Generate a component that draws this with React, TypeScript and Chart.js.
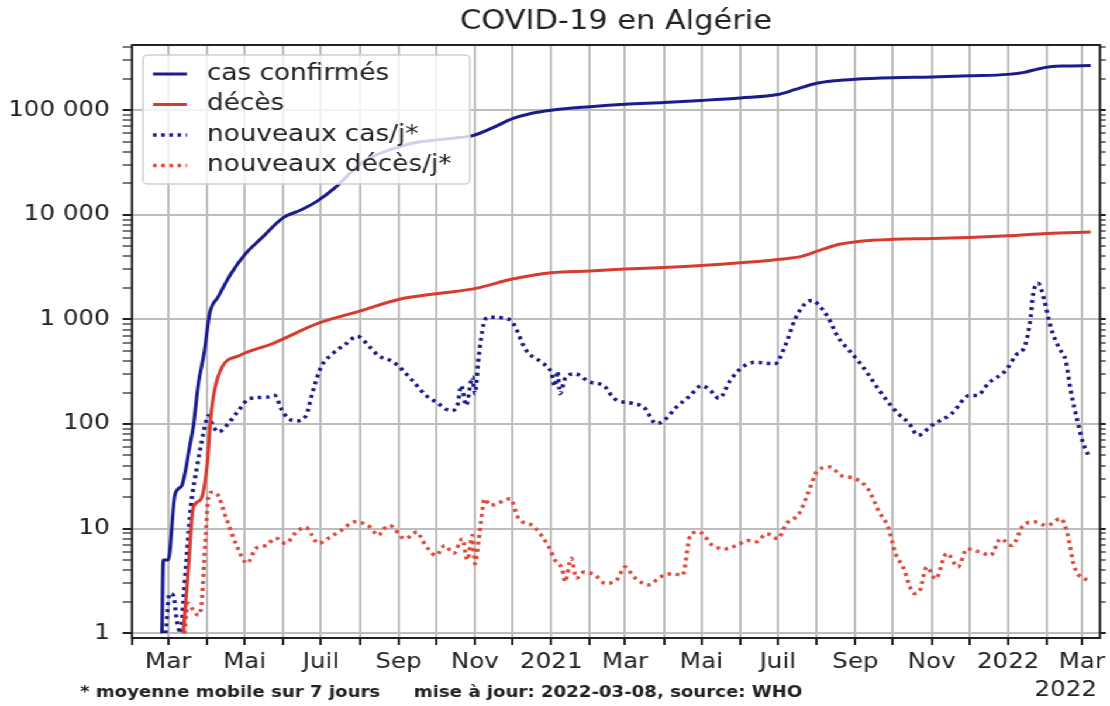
import React, { useEffect, useRef } from 'react';
import { Chart, registerables } from 'chart.js';

Chart.register(...registerables);

const INNER_W = 949;
const H = 706;
const STRETCH = 1110 / INNER_W;
const FONT = "'DejaVu Sans', sans-serif";

const titleText = 'COVID-19 en Algérie';
const seriesLabels = ['cas confirmés', 'décès', 'nouveaux cas/j*', 'nouveaux décès/j*'];
const footnoteLeft = '* moyenne mobile sur 7 jours';
const footnoteRight = 'mise à jour: 2022-03-08, source: WHO';
const offsetText = '2022';

const monthTickDates = [
  '2020-02-01', '2020-03-01', '2020-04-01', '2020-05-01', '2020-06-01', '2020-07-01',
  '2020-08-01', '2020-09-01', '2020-10-01', '2020-11-01', '2020-12-01', '2021-01-01',
  '2021-02-01', '2021-03-01', '2021-04-01', '2021-05-01', '2021-06-01', '2021-07-01',
  '2021-08-01', '2021-09-01', '2021-10-01', '2021-11-01', '2021-12-01', '2022-01-01',
  '2022-02-01', '2022-03-01',
];
const xTickLabels = [
  '', 'Mar', '', 'Mai', '', 'Juil', '', 'Sep', '', 'Nov', '', '2021',
  '', 'Mar', '', 'Mai', '', 'Juil', '', 'Sep', '', 'Nov', '', '2022',
  '', 'Mar',
];
const yMajorValues = [1, 10, 100, 1000, 10000, 100000];
const yTickLabels = ['1', '10', '100', '1 000', '10 000', '100 000'];
const yMinorMultipliers = [2, 3, 4, 5, 6, 7, 8, 9];

const cumCasesDates = [
  '2020-02-25', '2020-02-26', '2020-03-01', '2020-03-06', '2020-03-09', '2020-03-12',
  '2020-03-15', '2020-03-18', '2020-03-21', '2020-03-25', '2020-03-30', '2020-04-03',
  '2020-04-10', '2020-04-20', '2020-05-01', '2020-05-14', '2020-06-01', '2020-06-15',
  '2020-06-28', '2020-07-13', '2020-08-01', '2020-08-15', '2020-09-01', '2020-09-15',
  '2020-10-01', '2020-10-15', '2020-10-31', '2020-11-15', '2020-12-01', '2020-12-15',
  '2021-01-01', '2021-02-01', '2021-03-01', '2021-04-01', '2021-05-01', '2021-06-01',
  '2021-07-01', '2021-07-15', '2021-08-01', '2021-08-15', '2021-09-01', '2021-10-01',
  '2021-11-01', '2021-12-01', '2022-01-01', '2022-01-14', '2022-01-25', '2022-02-05',
  '2022-02-15', '2022-03-08',
];
const cumCasesValues = [
  1, 5, 5, 20, 24, 26,
  37, 60, 94, 240, 505, 1130,
  1650, 2720, 4150, 5900, 9400, 11100,
  13500, 18500, 30400, 37700, 44500, 49200,
  51800, 54000, 57500, 67700, 83000, 92600,
  100000, 108000, 114000, 118500, 124000, 131000,
  141000, 158000, 181000, 191000, 198000, 204500,
  208000, 213000, 220000, 230000, 248000, 261000,
  264500, 267000,
];

const cumDeathsDates = [
  '2020-03-13', '2020-03-17', '2020-03-21', '2020-03-27', '2020-04-01', '2020-04-04',
  '2020-04-07', '2020-04-13', '2020-04-27', '2020-05-23', '2020-06-29', '2020-08-01',
  '2020-09-01', '2020-10-01', '2020-11-01', '2020-12-01', '2021-01-01', '2021-02-01',
  '2021-03-01', '2021-04-01', '2021-05-01', '2021-06-01', '2021-07-01', '2021-07-20',
  '2021-08-05', '2021-08-20', '2021-09-05', '2021-10-01', '2021-11-01', '2021-12-01',
  '2022-01-01', '2022-02-01', '2022-03-08',
];
const cumDeathsValues = [
  1, 4, 16, 19, 40, 116,
  210, 349, 452, 585, 920, 1200,
  1550, 1760, 1970, 2430, 2790, 2900,
  3030, 3140, 3280, 3480, 3740, 4000,
  4650, 5250, 5600, 5830, 5930, 6070,
  6300, 6620, 6850,
];

const newCasesDates = [
  '2020-02-28', '2020-03-02', '2020-03-05', '2020-03-08', '2020-03-11', '2020-03-13',
  '2020-03-19', '2020-03-24', '2020-03-29', '2020-04-02', '2020-04-06', '2020-04-10',
  '2020-04-18', '2020-04-26', '2020-05-05', '2020-05-18', '2020-05-25', '2020-05-31',
  '2020-06-05', '2020-06-11', '2020-06-19', '2020-06-24', '2020-07-01', '2020-07-10',
  '2020-07-21', '2020-07-30', '2020-08-09', '2020-08-16', '2020-08-28', '2020-09-12',
  '2020-09-23', '2020-10-01', '2020-10-13', '2020-10-18', '2020-10-21', '2020-10-25',
  '2020-10-30', '2020-11-01', '2020-11-04', '2020-11-08', '2020-11-12', '2020-11-24',
  '2020-12-01', '2020-12-12', '2020-12-24', '2021-01-01', '2021-01-04', '2021-01-06',
  '2021-01-08', '2021-01-12', '2021-01-20', '2021-02-01', '2021-02-12', '2021-02-20',
  '2021-03-07', '2021-03-16', '2021-03-26', '2021-04-01', '2021-04-11', '2021-04-22',
  '2021-05-01', '2021-05-08', '2021-05-15', '2021-05-24', '2021-06-02', '2021-06-13',
  '2021-06-29', '2021-07-07', '2021-07-15', '2021-07-24', '2021-07-29', '2021-08-02',
  '2021-08-10', '2021-08-18', '2021-08-27', '2021-09-05', '2021-09-11', '2021-09-20',
  '2021-09-28', '2021-10-05', '2021-10-14', '2021-10-21', '2021-11-01', '2021-11-17',
  '2021-12-01', '2021-12-07', '2021-12-17', '2021-12-30', '2022-01-07', '2022-01-15',
  '2022-01-19', '2022-01-21', '2022-01-25', '2022-01-30', '2022-02-04', '2022-02-11',
  '2022-02-16', '2022-02-20', '2022-02-26', '2022-03-02', '2022-03-07',
];
const newCasesValues = [
  1, 2.4, 2.3, 1.3, 1.0, 2.0,
  16, 39, 81, 120, 95, 84,
  101, 134, 175, 180, 188, 134,
  113, 107, 120, 195, 349, 466,
  584, 690, 545, 450, 390, 261,
  187, 162, 134, 150, 233, 150,
  282, 195, 437, 905, 1050, 1030,
  940, 505, 390, 310, 230, 320,
  195, 272, 302, 251, 233, 176,
  157, 145, 101, 108, 145, 187,
  233, 210, 176, 261, 344, 389,
  377, 565, 1017, 1455, 1520, 1400,
  1050, 680, 505, 377, 302, 210,
  157, 126, 101, 78, 97, 126,
  187, 187, 250, 324, 452, 585,
  1050, 1750, 2215, 1510, 845, 525,
  405, 210, 100, 65, 48,
];

const newDeathsDates = [
  '2020-03-14', '2020-03-17', '2020-03-21', '2020-03-25', '2020-03-27', '2020-03-31',
  '2020-04-02', '2020-04-05', '2020-04-09', '2020-04-16', '2020-04-24', '2020-05-03',
  '2020-05-10', '2020-05-18', '2020-05-26', '2020-06-03', '2020-06-10', '2020-06-19',
  '2020-06-23', '2020-06-29', '2020-07-07', '2020-07-17', '2020-07-28', '2020-08-04',
  '2020-08-09', '2020-08-16', '2020-08-20', '2020-08-25', '2020-09-06', '2020-09-16',
  '2020-09-20', '2020-10-01', '2020-10-08', '2020-10-15', '2020-10-22', '2020-10-26',
  '2020-10-30', '2020-11-01', '2020-11-04', '2020-11-09', '2020-11-13', '2020-11-22',
  '2020-11-29', '2020-12-06', '2020-12-17', '2020-12-21', '2020-12-30', '2021-01-04',
  '2021-01-10', '2021-01-12', '2021-01-17', '2021-01-21', '2021-01-27', '2021-02-05',
  '2021-02-13', '2021-02-22', '2021-03-01', '2021-03-08', '2021-03-20', '2021-03-29',
  '2021-04-07', '2021-04-16', '2021-04-22', '2021-04-29', '2021-05-10', '2021-05-20',
  '2021-05-29', '2021-06-07', '2021-06-14', '2021-06-22', '2021-07-01', '2021-07-08',
  '2021-07-18', '2021-07-25', '2021-08-02', '2021-08-12', '2021-08-20', '2021-09-01',
  '2021-09-11', '2021-09-20', '2021-09-27', '2021-10-03', '2021-10-09', '2021-10-18',
  '2021-10-22', '2021-10-28', '2021-11-04', '2021-11-13', '2021-11-22', '2021-11-29',
  '2021-12-09', '2021-12-18', '2021-12-26', '2022-01-04', '2022-01-13', '2022-01-22',
  '2022-02-01', '2022-02-12', '2022-02-17', '2022-02-23', '2022-03-07',
];
const newDeathsValues = [
  1, 1.93, 1.66, 1.49, 1.66, 9,
  20, 22.3, 21.5, 12.9, 7.2, 4.66,
  6.44, 6.9, 8.1, 7.2, 8.95, 10.3,
  8.95, 7.2, 8.1, 9.6, 11.6, 11.2,
  10.4, 8.6, 9.9, 10.7, 8.0, 9.3,
  7.7, 5.55, 6.9, 5.8, 8.0, 5.0,
  8.6, 4.6, 7.7, 19.3, 16.7, 18,
  19.3, 12.5, 10.7, 9.6, 6.7, 5.0,
  4.0, 3.1, 5.2, 3.35, 3.85, 3.6,
  3.0, 3.2, 4.3, 3.45, 2.9, 3.45,
  3.7, 3.6, 8.6, 9.3, 6.9, 6.4,
  6.9, 7.7, 7.5, 8.95, 8.0, 11.2,
  13.9, 21.6, 36, 38.8, 32.4, 30,
  24, 14.4, 10.4, 5.8, 4.3, 2.4,
  2.5, 4.3, 3.3, 5.8, 4.3, 6.4,
  6.0, 5.55, 8.0, 6.9, 10.7, 11.6,
  10.7, 12.5, 9.3, 4.3, 3.1,
];

const BLUE = '#1b1b8e';
const RED = '#d73a2e';
const RED_DOT = '#de4a3e';

function dayOf(s: string): number {
  const [y, m, d] = s.split('-').map(Number);
  return (Date.UTC(y, m - 1, d) - Date.UTC(2020, 1, 1)) / 86400000;
}
function pts(dates: string[], values: number[]) {
  return dates.map((d, i) => ({ x: dayOf(d), y: values[i] }));
}
const yAllTicks: number[] = [];
yMajorValues.forEach((dec) => {
  yAllTicks.push(dec);
  yMinorMultipliers.forEach((m) => {
    if (dec * m <= 420000) yAllTicks.push(dec * m);
  });
});
function isMajor(v: number) {
  return yMajorValues.indexOf(v) >= 0;
}

const overlayPlugin = {
  id: 'overlay',
  afterDatasetsDraw(chart: any) {
    const { ctx, chartArea: a } = chart;
    ctx.save();
    ctx.strokeStyle = '#222';
    ctx.lineWidth = 2;
    ctx.strokeRect(a.left, a.top, a.right - a.left, a.bottom - a.top);

    const bx = a.left + 9.4;
    const by = a.top + 10;
    const bw = 279.5;
    const bh = 129;
    ctx.beginPath();
    if (ctx.roundRect) ctx.roundRect(bx, by, bw, bh, 4);
    else ctx.rect(bx, by, bw, bh);
    ctx.fillStyle = 'rgba(255,255,255,0.8)';
    ctx.fill();
    ctx.strokeStyle = '#d0d0d0';
    ctx.lineWidth = 1.5;
    ctx.stroke();
    chart.data.datasets.forEach((ds: any, i: number) => {
      const y = by + 19 + i * 30.5;
      ctx.beginPath();
      ctx.setLineDash(ds.borderDash || []);
      ctx.strokeStyle = ds.borderColor;
      ctx.lineWidth = ds.borderWidth;
      ctx.moveTo(bx + 8.6, y);
      ctx.lineTo(bx + 37.6, y);
      ctx.stroke();
      ctx.setLineDash([]);
      ctx.fillStyle = '#222';
      ctx.font = `22.5px ${FONT}`;
      ctx.textBaseline = 'middle';
      ctx.textAlign = 'left';
      ctx.fillText(ds.label, bx + 54.7, y);
    });
    ctx.restore();
  },
  afterDraw(chart: any) {
    const { ctx, chartArea: a } = chart;
    ctx.save();
    ctx.fillStyle = '#222';
    ctx.textBaseline = 'middle';
    ctx.textAlign = 'left';
    ctx.font = `bold 15.5px ${FONT}`;
    ctx.fillText(footnoteLeft, 68.4, 693);
    ctx.fillText(footnoteRight, 353.8, 693);
    ctx.font = `21px ${FONT}`;
    ctx.textAlign = 'right';
    ctx.fillText(offsetText, a.right - 2.5, 690.5);
    ctx.restore();
  },
};

export default function App() {
  const ref = useRef<HTMLCanvasElement>(null);
  useEffect(() => {
    document.body.style.margin = '0';
    document.body.style.overflow = 'hidden';
    const logY = (position: string, showLabels: boolean, width: number, tickLen: number) => ({
      type: 'logarithmic',
      position,
      min: 0.9,
      max: 420000,
      afterBuildTicks: (s: any) => {
        s.ticks = yAllTicks.map((v) => ({ value: v }));
      },
      afterFit: (s: any) => {
        s.width = width;
      },
      ticks: {
        display: showLabels,
        autoSkip: false,
        padding: 11,
        color: '#222',
        font: { family: FONT, size: 21 },
        callback: (v: number) => {
          const k = yMajorValues.indexOf(v);
          return k >= 0 ? yTickLabels[k] : '';
        },
      },
      grid: {
        drawOnChartArea: showLabels,
        color: (c: any) => (c.tick && isMajor(c.tick.value) ? '#bdbdbd' : 'rgba(0,0,0,0)'),
        lineWidth: 2,
        drawTicks: true,
        tickLength: tickLen,
        tickColor: '#222',
        tickWidth: (c: any) => (c.tick && isMajor(c.tick.value) ? 2 : 1.2),
      },
      border: { display: false },
    });

    const chart = new Chart(ref.current as HTMLCanvasElement, {
      type: 'line',
      data: {
        datasets: [
          {
            label: seriesLabels[0],
            data: pts(cumCasesDates, cumCasesValues),
            borderColor: BLUE,
            borderWidth: 3,
            cubicInterpolationMode: 'monotone',
          },
          {
            label: seriesLabels[1],
            data: pts(cumDeathsDates, cumDeathsValues),
            borderColor: RED,
            borderWidth: 3,
            cubicInterpolationMode: 'monotone',
          },
          {
            label: seriesLabels[2],
            data: pts(newCasesDates, newCasesValues),
            borderColor: BLUE,
            borderWidth: 3.5,
            borderDash: [3, 4],
            cubicInterpolationMode: 'monotone',
          },
          {
            label: seriesLabels[3],
            data: pts(newDeathsDates, newDeathsValues),
            borderColor: RED_DOT,
            borderWidth: 3.5,
            borderDash: [3, 4],
            cubicInterpolationMode: 'monotone',
          },
        ],
      } as any,
      options: {
        animation: false,
        responsive: false,
        devicePixelRatio: 1,
        elements: { point: { radius: 0 } },
        layout: { padding: 0 },
        plugins: {
          legend: { display: false },
          tooltip: { enabled: false },
          title: {
            display: true,
            text: titleText,
            fullSize: false,
            color: '#222',
            font: { family: FONT, size: 26, weight: 'normal', lineHeight: 1.2 },
            padding: { top: 7, bottom: 6.8 },
          },
        },
        scales: {
          x: {
            type: 'linear',
            min: 0,
            max: 773.4,
            afterBuildTicks: (s: any) => {
              s.ticks = monthTickDates.map((d) => ({ value: dayOf(d) }));
            },
            afterFit: (s: any) => {
              s.height = 68;
            },
            ticks: {
              autoSkip: false,
              maxRotation: 0,
              minRotation: 0,
              padding: 4,
              color: '#222',
              font: { family: FONT, size: 21, lineHeight: 1.3 },
              callback: (_v: number, i: number) => xTickLabels[i],
            },
            grid: {
              color: '#bdbdbd',
              lineWidth: 2,
              drawTicks: true,
              tickLength: 7,
              tickColor: '#222',
              tickWidth: 2,
            },
            border: { display: false },
          },
          y: logY('left', true, 112.8, 8),
          y2: logY('right', false, 8, 5),
        },
      } as any,
      plugins: [overlayPlugin],
    });
    return () => chart.destroy();
  }, []);

  return (
    <div
      style={{
        width: INNER_W,
        height: H,
        transform: `scaleX(${STRETCH})`,
        transformOrigin: '0 0',
        background: '#fff',
      }}
    >
      <canvas ref={ref} width={INNER_W} height={H} style={{ display: 'block' }} />
    </div>
  );
}
